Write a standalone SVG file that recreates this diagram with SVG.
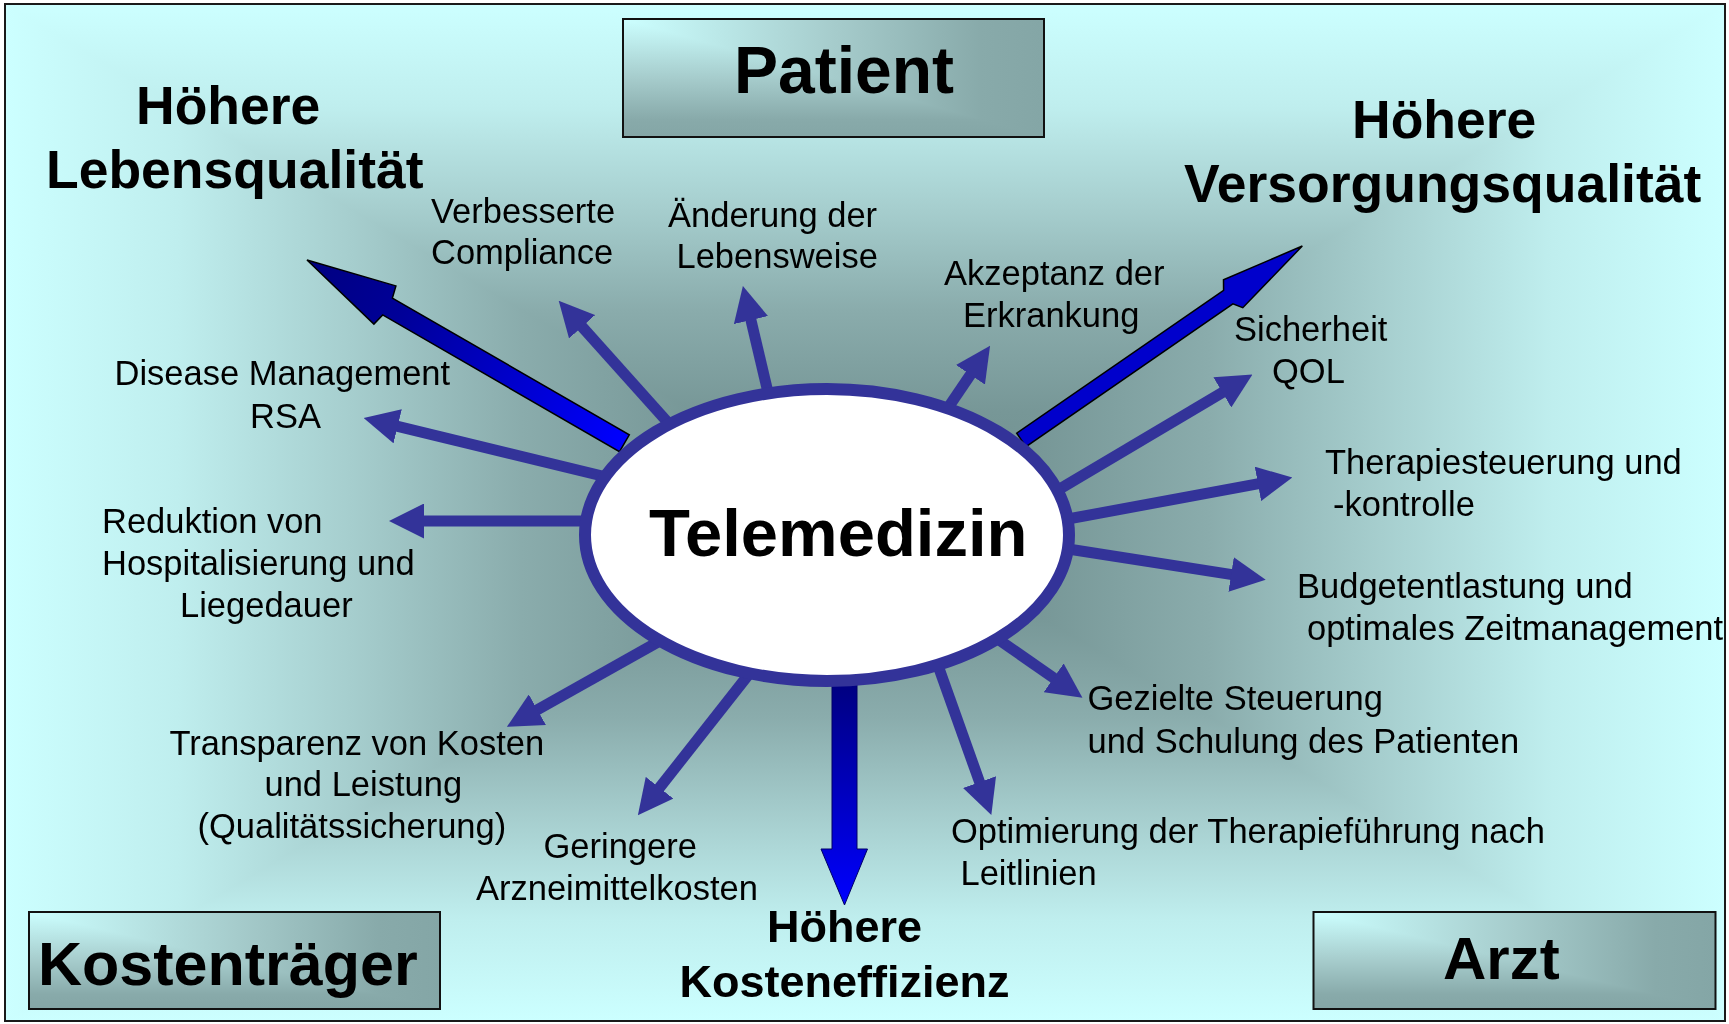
<svg xmlns="http://www.w3.org/2000/svg" width="1729" height="1024" viewBox="0 0 1729 1024">
<defs>
<style>
.lbl{font-family:"Liberation Sans",Arial,Helvetica,sans-serif;font-size:34.5px;fill:#000}
.ttl{font-family:"Liberation Sans",Arial,Helvetica,sans-serif;font-weight:bold;fill:#000}
.thin{stroke:#333399;stroke-width:11;fill:none;marker-end:url(#ah)}
.boxline{fill:none;stroke:#111;stroke-width:2}
</style>
<marker id="ah" markerUnits="userSpaceOnUse" viewBox="0 0 35 35" markerWidth="35" markerHeight="35" refX="1" refY="17.5" orient="auto">
<path d="M0,0 L35,17.5 L0,35 z" fill="#333399"/>
</marker>
<linearGradient id="bgH" gradientUnits="userSpaceOnUse" x1="6" y1="0" x2="1724" y2="0">
<stop offset="0" stop-color="#CCFFFF"/><stop offset="0.1" stop-color="#BFEEEE"/><stop offset="0.2" stop-color="#A6CECE"/><stop offset="0.3" stop-color="#8AACAC"/><stop offset="0.4" stop-color="#779797"/><stop offset="0.5" stop-color="#6F8E8E"/><stop offset="0.6" stop-color="#779797"/><stop offset="0.7" stop-color="#8AACAC"/><stop offset="0.8" stop-color="#A6CECE"/><stop offset="0.9" stop-color="#BFEEEE"/><stop offset="1" stop-color="#CCFFFF"/>
</linearGradient>
<linearGradient id="bgV" gradientUnits="userSpaceOnUse" x1="0" y1="5" x2="0" y2="1021">
<stop offset="0" stop-color="#CCFFFF"/><stop offset="0.1" stop-color="#BFEEEE"/><stop offset="0.2" stop-color="#A6CECE"/><stop offset="0.3" stop-color="#8AACAC"/><stop offset="0.4" stop-color="#779797"/><stop offset="0.5" stop-color="#6F8E8E"/><stop offset="0.6" stop-color="#779797"/><stop offset="0.7" stop-color="#8AACAC"/><stop offset="0.8" stop-color="#A6CECE"/><stop offset="0.9" stop-color="#BFEEEE"/><stop offset="1" stop-color="#CCFFFF"/>
</linearGradient>
<linearGradient id="bxH" x1="0" y1="0" x2="1" y2="0">
<stop offset="0" stop-color="#CCFFFF"/><stop offset="0.5" stop-color="#A6CCCC"/><stop offset="0.85" stop-color="#88AAAA"/><stop offset="1" stop-color="#84A6A6"/>
</linearGradient>
<linearGradient id="bxV" x1="0" y1="0" x2="0" y2="1">
<stop offset="0" stop-color="#CCFFFF"/><stop offset="0.5" stop-color="#A6CCCC"/><stop offset="0.85" stop-color="#88AAAA"/><stop offset="1" stop-color="#84A6A6"/>
</linearGradient>
<linearGradient id="bigL" gradientUnits="userSpaceOnUse" x1="307" y1="260" x2="624" y2="443">
<stop offset="0" stop-color="#000080"/><stop offset="0.3" stop-color="#000099"/><stop offset="1" stop-color="#0000FF"/>
</linearGradient>
<linearGradient id="bigD" gradientUnits="userSpaceOnUse" x1="0" y1="683" x2="0" y2="905">
<stop offset="0" stop-color="#000080"/><stop offset="1" stop-color="#0000FF"/>
</linearGradient>
</defs>

<g id="background" style="isolation:isolate">
<rect x="6" y="5" width="1718" height="1016" fill="url(#bgH)"/>
<rect x="6" y="5" width="1718" height="1016" fill="url(#bgV)" style="mix-blend-mode:lighten"/>
</g>

<g id="connectors">
<path class="thin" d="M672.7,427.9 L581.4,326"/>
<path class="thin" d="M770.1,401.3 L750.7,319.1"/>
<path class="thin" d="M612.6,478.5 L396.7,426.1"/>
<path class="thin" d="M600,521 L423,521"/>
<path class="thin" d="M944.9,412.4 L971,373.9"/>
<path class="thin" d="M1050.4,494.4 L1223.2,391.9"/>
<path class="thin" d="M1057,521 L1258.9,483.7"/>
<path class="thin" d="M1060.2,547.7 L1232.1,574.6"/>
<path class="thin" d="M984.4,629.8 L1054.5,678.4"/>
<path class="thin" d="M935.7,659.2 L979.9,783"/>
<path class="thin" d="M751,671.5 L658.9,788.5"/>
<path class="thin" d="M669.8,635.4 L536.5,710.2"/>
<polygon points="307,260 395.9,285.9 392.4,298.1 629.3,434.8 619.5,451.7 382.7,314.9 373.9,324.1" fill="url(#bigL)" stroke="#000" stroke-width="1.5" stroke-linejoin="miter"/>
<polygon points="1302.3,246 1223.5,279.7 1223.6,290.4 1016.7,433.2 1026,446.7 1232.9,303.9 1242.8,307.7" fill="#0000CC" stroke="#000" stroke-width="1.5"/>
<polygon points="832,683 857,683 857,849 867.5,849 844.5,905 821,849 832,849" fill="url(#bigD)" stroke="#000066" stroke-width="1"/>
</g>

<g id="telemedizin">
<ellipse cx="827" cy="535" rx="242" ry="146" fill="#FFFFFF" stroke="#333399" stroke-width="12"/>
<text class="ttl" x="649" y="556" font-size="67">Telemedizin</text>
</g>

<g id="patient">
<rect x="623" y="19" width="421" height="118" fill="url(#bxH)"/>
<rect x="623" y="19" width="421" height="118" fill="url(#bxV)" style="mix-blend-mode:darken"/>
<rect class="boxline" x="623" y="19" width="421" height="118"/>
<text class="ttl" x="734" y="92.7" font-size="66">Patient</text>
</g>

<g id="kostentraeger">
<rect x="29" y="912" width="411" height="97" fill="url(#bxH)"/>
<rect x="29" y="912" width="411" height="97" fill="url(#bxV)" style="mix-blend-mode:darken"/>
<rect class="boxline" x="29" y="912" width="411" height="97"/>
<text class="ttl" x="38" y="985" font-size="61">Kostenträger</text>
</g>

<g id="arzt">
<rect x="1313.5" y="912" width="402" height="97" fill="url(#bxH)"/>
<rect x="1313.5" y="912" width="402" height="97" fill="url(#bxV)" style="mix-blend-mode:darken"/>
<rect class="boxline" x="1313.5" y="912" width="402" height="97"/>
<text class="ttl" x="1443" y="979" font-size="60">Arzt</text>
</g>

<g id="lebensqualitaet">
<text class="ttl" font-size="53.5"><tspan x="136" y="124">Höhere</tspan><tspan x="46" y="188">Lebensqualität</tspan></text>
</g>
<g id="versorgungsqualitaet">
<text class="ttl" font-size="53.5"><tspan x="1352" y="138">Höhere</tspan><tspan x="1184" y="202">Versorgungsqualität</tspan></text>
</g>
<g id="kosteneffizienz">
<text class="ttl" font-size="45" text-anchor="middle"><tspan x="844.5" y="942">Höhere</tspan><tspan x="844.5" y="997">Kosteneffizienz</tspan></text>
</g>

<g id="compliance"><text class="lbl"><tspan x="431" y="223.3">Verbesserte</tspan><tspan x="431" y="264">Compliance</tspan></text></g>
<g id="lebensweise"><text class="lbl"><tspan x="668" y="226.7">Änderung der</tspan><tspan x="676.5" y="268.3">Lebensweise</tspan></text></g>
<g id="akzeptanz"><text class="lbl"><tspan x="944" y="285">Akzeptanz der</tspan><tspan x="963" y="326.7">Erkrankung</tspan></text></g>
<g id="sicherheit"><text class="lbl"><tspan x="1234" y="340.5">Sicherheit</tspan><tspan x="1272" y="382.7">QOL</tspan></text></g>
<g id="therapiesteuerung"><text class="lbl"><tspan x="1325" y="474">Therapiesteuerung und</tspan><tspan x="1333" y="516">-kontrolle</tspan></text></g>
<g id="budget"><text class="lbl"><tspan x="1297" y="598.3">Budgetentlastung und</tspan><tspan x="1307" y="640">optimales Zeitmanagement</tspan></text></g>
<g id="gezielte"><text class="lbl"><tspan x="1087.5" y="710">Gezielte Steuerung</tspan><tspan x="1087.5" y="752.7">und Schulung des Patienten</tspan></text></g>
<g id="optimierung"><text class="lbl"><tspan x="951" y="843.3">Optimierung der Therapieführung nach</tspan><tspan x="960.5" y="885">Leitlinien</tspan></text></g>
<g id="geringere"><text class="lbl"><tspan x="543.5" y="858.3">Geringere</tspan><tspan x="476" y="900">Arzneimittelkosten</tspan></text></g>
<g id="transparenz"><text class="lbl"><tspan x="169.5" y="755">Transparenz von Kosten</tspan><tspan x="264.5" y="796">und Leistung</tspan><tspan x="197.5" y="838">(Qualitätssicherung)</tspan></text></g>
<g id="reduktion"><text class="lbl"><tspan x="102" y="533.3">Reduktion von</tspan><tspan x="102" y="575">Hospitalisierung und</tspan><tspan x="180" y="616.7">Liegedauer</tspan></text></g>
<g id="disease"><text class="lbl"><tspan x="114.5" y="385">Disease Management</tspan><tspan x="250" y="428.3">RSA</tspan></text></g>

<rect id="frame" x="5" y="4" width="1720" height="1017" fill="none" stroke="#1A1A1A" stroke-width="2"/>
</svg>
